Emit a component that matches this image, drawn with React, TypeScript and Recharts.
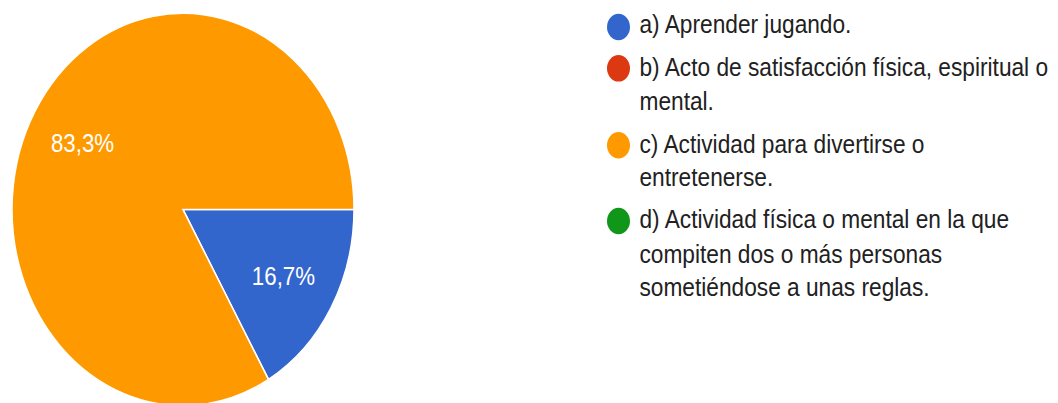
import React from 'react';
import { PieChart, Pie, Cell, Legend } from 'recharts';

const categories = [
  'a) Aprender jugando.',
  'b) Acto de satisfacción física, espiritual o mental.',
  'c) Actividad para divertirse o entretenerse.',
  'd) Actividad física o mental en la que compiten dos o más personas sometiéndose a unas reglas.',
];
const values = [1, 0, 5, 0];
const colors = ['#3366cc', '#dc3912', '#ff9900', '#109618'];

const data = categories.map((name, i) => ({ name, value: values[i] }));

const SCALE_Y = 1.148;
const RAD = Math.PI / 180;
const FONT = '"Liberation Sans", Arial, sans-serif';

const renderLabel = (props: any) => {
  const { cx, cy, midAngle, percent, value } = props;
  if (!value) return null;
  const r = 116;
  const x = cx + r * Math.cos(-midAngle * RAD);
  const y = cy + r * Math.sin(-midAngle * RAD);
  const txt = (percent * 100).toFixed(1).replace('.', ',') + '%';
  return (
    <text x={x} y={y} fill="#ffffff" textAnchor="middle" dominantBaseline="central" fontSize={22.3} fontFamily={FONT}>
      {txt}
    </text>
  );
};

const renderLegend = () => (
  <div style={{ fontFamily: FONT, fontSize: 22.7, color: '#212121' }}>
    {categories.map((c, i) => (
      <div key={c} style={{ display: 'flex', alignItems: 'flex-start', marginBottom: 7.2 }}>
        <div
          style={{
            width: 23,
            height: 23,
            borderRadius: '50%',
            background: colors[i],
            marginTop: 4.3,
            flex: '0 0 auto',
          }}
        />
        <div style={{ marginLeft: 9.5, lineHeight: '29.6px', width: 425 }}>{c}</div>
      </div>
    ))}
  </div>
);

export default function App() {
  return (
    <div style={{ position: 'absolute', left: 0, top: 0, width: 1058, height: 403, overflow: 'hidden', background: '#fff' }}>
      <div style={{ transform: `scaleY(${SCALE_Y})`, transformOrigin: '0 0', width: 1058, height: 351 }}>
        <PieChart width={1058} height={351} margin={{ top: 0, right: 0, bottom: 0, left: 0 }}>
          <Pie
            data={data}
            dataKey="value"
            nameKey="name"
            cx={183}
            cy={182.5}
            outerRadius={171}
            startAngle={0}
            endAngle={-360}
            stroke="#ffffff"
            strokeWidth={1.5}
            label={renderLabel}
            labelLine={false}
            isAnimationActive={false}
          >
            {data.map((d, i) => (
              <Cell key={d.name} fill={colors[i]} />
            ))}
          </Pie>
          <Legend
            layout="vertical"
            align="right"
            verticalAlign="top"
            content={renderLegend}
            wrapperStyle={{ left: 607, top: 7.4, width: 451, right: 'auto' }}
          />
        </PieChart>
      </div>
    </div>
  );
}
